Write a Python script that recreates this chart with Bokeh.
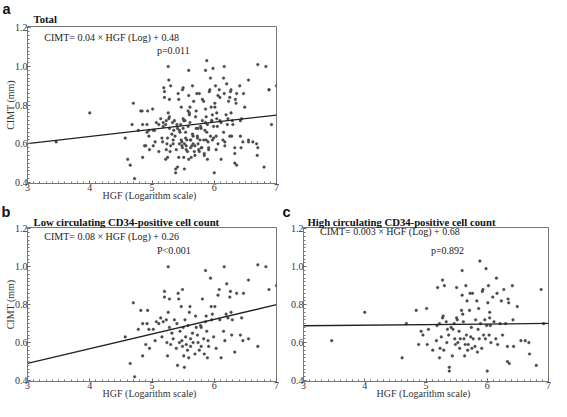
from bokeh.plotting import figure
from bokeh.layouts import column, row
from bokeh.models import Range1d, FixedTicker, NumeralTickFormatter, Label, Title
from bokeh.embed import file_html
from bokeh.resources import INLINE

# ---- data ----
low_hgf = [4.57, 4.65, 4.70, 4.72, 4.78, 4.82, 4.85, 4.85, 4.90, 4.92, 4.93, 4.95, 4.96, 5.02, 5.05,
           5.07, 5.11, 5.14, 5.16, 5.18, 5.20, 5.20, 5.23, 5.24, 5.26, 5.25, 5.26, 5.28, 5.28, 5.30,
           5.32, 5.34, 5.36, 5.39, 5.40, 5.41, 5.42, 5.43, 5.44, 5.45, 5.47, 5.48, 5.49, 5.49, 5.50,
           5.51, 5.52, 5.53, 5.54, 5.55, 5.57, 5.58, 5.59, 5.60, 5.61, 5.62, 5.62, 5.65, 5.66, 5.69,
           5.70, 5.71, 5.73, 5.74, 5.76, 5.78, 5.79, 5.79, 5.81, 5.83, 5.84, 5.86, 5.86, 5.87, 5.88,
           5.89, 5.90, 5.91, 5.94, 5.95, 5.96, 5.97, 5.99, 6.01, 6.03, 6.06, 6.08, 6.09, 6.11, 6.15,
           6.16, 6.17, 6.19, 6.20, 6.22, 6.25, 6.26, 6.27, 6.28, 6.29, 6.33, 6.36, 6.42, 6.44, 6.46,
           6.47, 6.55, 6.55, 6.70, 6.70, 6.83, 6.88, 7.00]
low_cimt = [0.63, 0.49, 0.81, 0.42, 0.67, 0.77, 0.70, 0.53, 0.59, 0.70, 0.77, 0.67, 0.57, 0.67, 0.61,
            0.71, 0.70, 0.73, 0.63, 0.71, 0.87, 0.84, 0.72, 0.60, 1.00, 0.53, 0.76, 0.83, 0.68, 0.59,
            0.65, 0.62, 0.72, 0.57, 0.70, 0.48, 0.86, 0.83, 0.60, 0.66, 0.79, 0.61, 0.58, 0.88, 0.68,
            0.53, 0.47, 0.72, 0.63, 0.59, 0.56, 0.69, 0.52, 0.76, 0.79, 0.62, 0.58, 0.65, 0.60, 0.54,
            0.74, 0.68, 0.64, 0.60, 0.56, 0.69, 0.68, 0.58, 0.83, 0.62, 0.54, 0.98, 0.71, 0.74, 0.66,
            0.52, 0.61, 0.58, 0.94, 0.79, 0.72, 0.75, 0.63, 0.79, 0.57, 0.85, 0.88, 0.72, 0.52, 0.66,
            1.00, 0.61, 0.75, 0.91, 0.73, 0.84, 0.87, 0.76, 0.64, 0.72, 0.55, 0.86, 0.64, 0.73, 0.61,
            0.86, 0.62, 0.93, 0.58, 1.01, 1.00, 0.88, 0.90]

high_hgf = [3.46, 4.00, 4.61, 4.68, 4.84, 4.88, 4.92, 4.95, 5.01, 5.02, 5.04, 5.11, 5.17, 5.18, 5.19,
            5.22, 5.22, 5.23, 5.25, 5.27, 5.27, 5.28, 5.29, 5.30, 5.33, 5.34, 5.35, 5.37, 5.38, 5.38,
            5.41, 5.43, 5.44, 5.46, 5.47, 5.48, 5.50, 5.50, 5.51, 5.52, 5.54, 5.55, 5.56, 5.58, 5.59,
            5.59, 5.60, 5.61, 5.62, 5.63, 5.64, 5.65, 5.66, 5.67, 5.68, 5.69, 5.71, 5.72, 5.73, 5.74,
            5.75, 5.76, 5.77, 5.80, 5.81, 5.83, 5.84, 5.85, 5.86, 5.87, 5.88, 5.89, 5.91, 5.92, 5.93,
            5.94, 5.96, 5.97, 5.98, 5.99, 6.00, 6.01, 6.02, 6.03, 6.04, 6.04, 6.05, 6.06, 6.09, 6.11,
            6.14, 6.15, 6.16, 6.17, 6.21, 6.23, 6.25, 6.27, 6.30, 6.33, 6.33, 6.34, 6.35, 6.36, 6.41,
            6.42, 6.43, 6.49, 6.55, 6.62, 6.68, 6.69, 6.80, 6.88, 6.92]
high_cimt = [0.61, 0.76, 0.52, 0.70, 0.77, 0.59, 0.66, 0.64, 0.78, 0.59, 0.67, 0.56, 0.61, 0.69, 0.89,
             0.70, 0.52, 0.57, 0.63, 0.73, 0.93, 0.74, 0.56, 0.90, 0.71, 0.60, 0.67, 0.64, 0.45, 0.47,
             0.68, 0.53, 0.67, 0.70, 0.62, 0.59, 0.73, 0.89, 0.72, 0.60, 0.66, 0.57, 0.62, 0.77, 0.98,
             0.85, 0.75, 0.71, 0.62, 0.53, 0.59, 0.90, 0.64, 0.82, 0.56, 0.59, 0.77, 0.86, 0.63, 0.68,
             0.57, 0.86, 0.62, 0.58, 0.72, 0.82, 0.55, 0.67, 0.78, 0.62, 1.03, 0.70, 0.57, 0.87, 0.88,
             0.64, 0.72, 0.62, 0.99, 0.69, 0.45, 0.81, 0.90, 0.64, 0.76, 0.73, 0.69, 0.60, 0.84, 0.71,
             0.62, 0.94, 0.86, 0.59, 0.70, 0.82, 0.64, 0.88, 0.70, 0.58, 0.50, 0.83, 0.81, 0.49, 0.90,
             0.72, 0.58, 0.79, 0.61, 0.61, 0.60, 0.54, 0.48, 0.88, 0.70]

total_hgf = low_hgf + high_hgf
total_cimt = low_cimt + high_cimt

# regression lines (intercept, slope) as drawn
fit_total = [0.49, 0.037]
fit_low = [0.2575, 0.0775]
fit_high = [0.68, 0.003]

x_ticks = [3, 4, 5, 6, 7]
y_ticks = [0.4, 0.6, 0.8, 1.0, 1.2]

eq_total = "CIMT= 0.04 \u00d7 HGF (Log) + 0.48"
eq_low = "CIMT= 0.08 \u00d7 HGF (Log) + 0.26"
eq_high = "CIMT= 0.003 \u00d7 HGF (Log) + 0.68"
p_total = "p=0.011"
p_low = "P<0.001"
p_high = "p=0.892"

SERIF = "Liberation Serif"
SANS = "Liberation Sans"


def panel(letter, title, hgf, cimt, fit, eq, ptxt, width, height, left, top, bottom, ylabel,
          eq_y, p_y, title_off, title_standoff, letter_off, letter_standoff):
    p = figure(width=width, height=height, output_backend="svg", toolbar_location=None,
               title=letter,
               x_range=Range1d(3, 7), y_range=Range1d(0.395, 1.207),
               min_border_left=left, min_border_right=3, min_border_top=top,
               min_border_bottom=bottom)
    p.xgrid.visible = False
    p.ygrid.visible = False
    p.outline_line_color = "#777777"
    p.outline_line_width = 1
    p.background_fill_color = "white"
    p.border_fill_color = "white"

    # outer title: panel letter
    p.title.text_font = SANS
    p.title.text_font_style = "bold"
    p.title.text_font_size = "14.5px"
    p.title.text_color = "#111111"
    p.title.offset = letter_off
    p.title.standoff = letter_standoff
    # inner title: panel caption
    p.add_layout(Title(text=title, text_font=SERIF, text_font_style="bold",
                       text_font_size="10.7px", text_color="#111111",
                       offset=title_off, standoff=title_standoff), "above")

    for ax in (p.xaxis[0], p.yaxis[0]):
        ax.axis_line_color = "#777777"
        ax.major_tick_line_color = "#555555"
        ax.minor_tick_line_color = "#777777"
        ax.major_tick_in = 3
        ax.major_tick_out = 0
        ax.minor_tick_in = 2
        ax.minor_tick_out = 0
        ax.major_label_text_font = SERIF
        ax.major_label_text_font_size = "10px"
        ax.major_label_text_color = "#333333"
        ax.major_label_standoff = 0
        ax.axis_label_text_font = SERIF
        ax.axis_label_text_font_size = "10px"
        ax.axis_label_text_font_style = "normal"
        ax.axis_label_text_color = "#333333"
        ax.axis_label_standoff = -4

    p.xaxis.ticker = FixedTicker(ticks=x_ticks,
                                 minor_ticks=[3 + i * 0.1 for i in range(41)])
    p.yaxis.ticker = FixedTicker(ticks=y_ticks,
                                 minor_ticks=[0.4 + i * 0.02 for i in range(41)])
    p.yaxis.formatter = NumeralTickFormatter(format="0.0")
    p.xaxis.axis_label = "HGF  (Logarithm  scale)"
    if ylabel:
        p.yaxis.axis_label = "CIMT (mm)"

    p.scatter(hgf, cimt, size=2.7, marker="circle", fill_color="#484848",
              line_color="#484848", line_width=0.4)
    lx = [x_ticks[0], x_ticks[-1]]
    p.line(lx, [fit[0] + fit[1] * v for v in lx], line_color="#222222", line_width=1.3)

    p.add_layout(Label(x=3.27, y=eq_y, text=eq, text_font=SERIF, text_font_size="10px",
                       text_color="#222222", text_baseline="middle"))
    p.add_layout(Label(x=5.08, y=p_y, text=ptxt, text_font=SERIF, text_font_size="10px",
                       text_color="#222222", text_baseline="middle"))
    return p


pa = panel("a", "Total", total_hgf, total_cimt, fit_total, eq_total, p_total,
           279, 203, 27, 26, 17, True, 1.151, 1.085, 6, 4, -25, -17)
pb = panel("b", "Low circulating CD34-positive cell count", low_hgf, low_cimt, fit_low,
           eq_low, p_low, 279, 198, 27, 24, 17, True, 1.16, 1.085, 6, 0, -26, -13)
pc = panel("c", "High circulating CD34-positive cell count", high_hgf, high_cimt, fit_high,
           eq_high, p_high, 272, 198, 24, 24, 17, False, 1.187, 1.085, 4, 0, -21, -13)

layout = column(row(pa), row(pb, pc), spacing=0)
open("out.html", "w").write(file_html(layout, INLINE))
